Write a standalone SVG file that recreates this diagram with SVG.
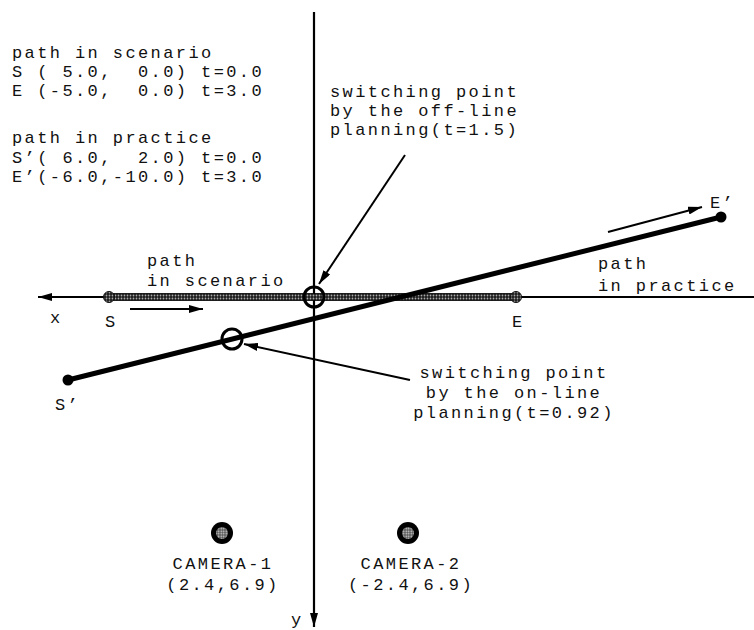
<svg xmlns="http://www.w3.org/2000/svg" width="754" height="630" viewBox="0 0 754 630">
<style>
text{font-family:"Liberation Mono","Courier New",monospace;font-size:17px;letter-spacing:2.4px;fill:#111}
.ax{stroke:#000;stroke-width:2.2;fill:none}
.ld{stroke:#000;stroke-width:2;fill:none}
.mid{text-anchor:middle}
</style>
<defs>
<marker id="arr" viewBox="0 0 14 8" refX="14" refY="4" markerWidth="14" markerHeight="8" orient="auto" markerUnits="userSpaceOnUse"><path d="M0,0 L14,4 L0,8 z" fill="#000"/></marker>
<pattern id="hatch" width="3" height="3" patternUnits="userSpaceOnUse"><rect width="3" height="3" fill="#1a1a1a"/><circle cx="1.5" cy="1.5" r="0.9" fill="#aaa"/></pattern>
<pattern id="hatch2" width="2.5" height="2.5" patternUnits="userSpaceOnUse"><rect width="2.5" height="2.5" fill="#555"/><circle cx="1.25" cy="1.25" r="0.8" fill="#ddd"/></pattern>
</defs>

<g id="axes">
<line class="ax" x1="754" y1="297" x2="38" y2="297" marker-end="url(#arr)"/>
<line class="ax" x1="314" y1="12" x2="314" y2="627" marker-end="url(#arr)"/>
<text x="50" y="323">x</text>
<text x="291" y="625">y</text>
</g>

<g id="path-scenario">
<rect x="109" y="293.5" width="407" height="7" fill="url(#hatch)" stroke="#000" stroke-width="0.8"/>
<circle cx="109" cy="297" r="5.5" fill="url(#hatch)" stroke="#111" stroke-width="1"/>
<circle cx="516" cy="297" r="5.5" fill="url(#hatch)" stroke="#111" stroke-width="1"/>
<text x="105" y="327">S</text>
<text x="512" y="327">E</text>
<text x="147" y="266">path</text>
<text x="147" y="286">in scenario</text>
</g>

<g id="path-practice">
<line x1="68" y1="380" x2="721" y2="217" stroke="#000" stroke-width="5"/>
<circle cx="68" cy="380" r="5.5" fill="#000"/>
<circle cx="721" cy="217" r="5.5" fill="#000"/>
<text x="55" y="410">S’</text>
<text x="710" y="208">E’</text>
<text x="598" y="269">path</text>
<text x="598" y="291">in practice</text>
</g>

<g id="point-offline">
<circle cx="314" cy="297" r="10" fill="none" stroke="#000" stroke-width="3"/>
<text x="330" y="97">switching point</text>
<text x="330" y="116">by the off-line</text>
<text x="330" y="135">planning(t=1.5)</text>
</g>

<g id="point-online">
<circle cx="232" cy="339" r="10" fill="none" stroke="#000" stroke-width="3"/>
<text class="mid" x="514" y="378">switching point</text>
<text class="mid" x="514" y="398">by the on-line</text>
<text class="mid" x="514" y="418">planning(t=0.92)</text>
</g>

<g id="camera-1">
<circle cx="222" cy="533" r="11" fill="#000"/>
<circle cx="222" cy="533" r="6" fill="url(#hatch2)"/>
<text class="mid" x="223" y="569">CAMERA-1</text>
<text class="mid" x="223" y="590">(2.4,6.9)</text>
</g>

<g id="camera-2">
<circle cx="408" cy="533" r="11" fill="#000"/>
<circle cx="408" cy="533" r="6" fill="url(#hatch2)"/>
<text class="mid" x="411" y="569">CAMERA-2</text>
<text class="mid" x="411" y="590">(-2.4,6.9)</text>
</g>

<g id="legend">
<text x="12" y="58">path in scenario</text>
<text x="12" y="77" xml:space="preserve">S ( 5.0,  0.0) t=0.0</text>
<text x="12" y="96" xml:space="preserve">E (-5.0,  0.0) t=3.0</text>
<text x="12" y="143">path in practice</text>
<text x="12" y="163" xml:space="preserve">S’( 6.0,  2.0) t=0.0</text>
<text x="12" y="182" xml:space="preserve">E’(-6.0,-10.0) t=3.0</text>
</g>

<g id="connectors">
<line class="ld" x1="405" y1="155" x2="319" y2="284" marker-end="url(#arr)"/>
<line class="ld" x1="410" y1="380" x2="244" y2="344" marker-end="url(#arr)"/>
<line class="ld" x1="130" y1="309" x2="203" y2="309" marker-end="url(#arr)"/>
<line class="ld" x1="608" y1="232" x2="702" y2="207" marker-end="url(#arr)"/>
</g>
</svg>
